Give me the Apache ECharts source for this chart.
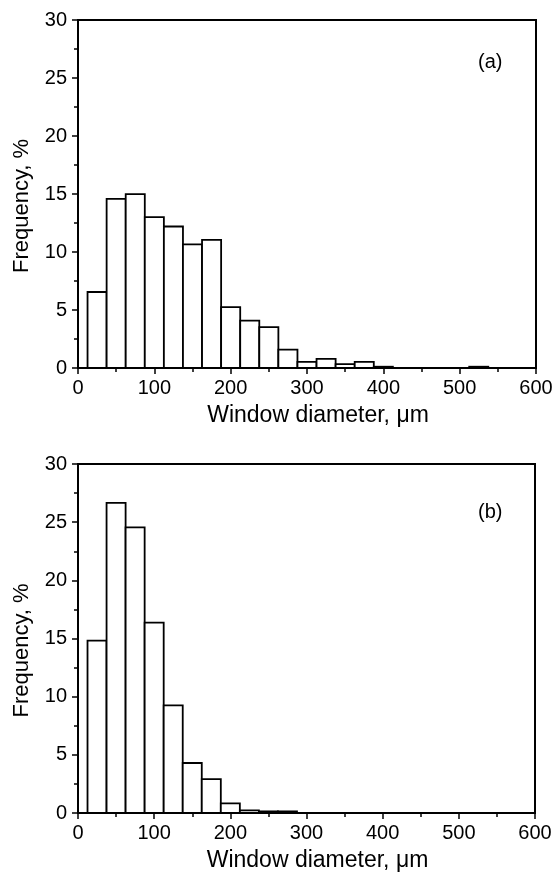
<!DOCTYPE html>
<html>
<head>
<meta charset="utf-8">
<script src="https://cdn.jsdelivr.net/npm/echarts@6/dist/echarts.min.js"></script>
<style>
  html, body { margin: 0; padding: 0; background: #fff; }
  #chart { width: 558px; height: 882px; }
</style>
</head>
<body>
<div id="chart"></div>
<script>
// histogram bins (window diameter, um)
const binCenters = [25, 50, 75, 100, 125, 150, 175, 200, 225, 250, 275, 300,
  325, 350, 375, 400, 425, 450, 475, 500, 525, 550, 575];
const binWidth = 25;
// frequency, %
const freqA = [6.55, 14.58, 14.99, 13.0, 12.2, 10.65, 11.05, 5.25, 4.08, 3.53, 1.58, 0.52,
  0.78, 0.34, 0.52, 0.11, 0, 0, 0, 0, 0.11, 0, 0];
const freqB = [14.81, 26.65, 24.56, 16.36, 9.26, 4.3, 2.92, 0.83, 0.23, 0.14, 0.14, 0,
  0, 0, 0, 0, 0, 0, 0, 0, 0, 0, 0];
const yTicks = { min: 0, max: 30, interval: 5 };
const xTicks = { min: 0, max: 600, interval: 100 };
const panelLabels = ['(a)', '(b)'];
const xName = 'Window diameter, \u03bcm';
const yName = 'Frequency, %';

const font = "'Liberation Sans', Arial, sans-serif";

const chart = echarts.init(document.getElementById('chart'));

function renderBar(params, api) {
  const c = api.value(0);
  const v = api.value(1);
  if (!v) return;
  const p0 = api.coord([c - binWidth / 2, v]);
  const p1 = api.coord([c + binWidth / 2, 0]);
  return {
    type: 'rect',
    shape: { x: p0[0], y: p0[1], width: p1[0] - p0[0], height: p1[1] - p0[1] },
    style: { fill: '#fff', stroke: '#000', lineWidth: 1.8 }
  };
}

const makeX = (gridIndex) => ({
  type: 'value',
  gridIndex,
  min: xTicks.min,
  max: xTicks.max,
  interval: xTicks.interval,
  name: xName,
  nameLocation: 'middle',
  nameGap: 36,
  nameTextStyle: { color: '#000', fontSize: 23, fontFamily: font, padding: [0, 0, 0, 22] },
  axisLine: { show: true, lineStyle: { color: '#000', width: 2 } },
  axisTick: { show: true, length: 6, lineStyle: { color: '#000', width: 1.5 } },
  minorTick: { show: true, splitNumber: 2, length: 4, lineStyle: { color: '#000', width: 1.5 } },
  splitLine: { show: false },
  axisLabel: { color: '#000', fontSize: 20, fontFamily: font, margin: 10 }
});

const makeY = (gridIndex) => ({
  type: 'value',
  gridIndex,
  min: yTicks.min,
  max: yTicks.max,
  interval: yTicks.interval,
  name: yName,
  nameLocation: 'middle',
  nameGap: 45,
  nameTextStyle: { color: '#000', fontSize: 22, fontFamily: font, padding: [0, 24, 0, 0] },
  axisLine: { show: true, lineStyle: { color: '#000', width: 2 } },
  axisTick: { show: true, length: 6, lineStyle: { color: '#000', width: 1.5 } },
  minorTick: { show: true, splitNumber: 2, length: 4, lineStyle: { color: '#000', width: 1.5 } },
  splitLine: { show: false },
  axisLabel: { color: '#000', fontSize: 20, fontFamily: font, margin: 11 }
});

const option = {
  animation: false,
  backgroundColor: '#fff',
  grid: [
    { left: 78, right: 22, top: 20, height: 348, show: true, borderColor: '#000', borderWidth: 2, backgroundColor: 'transparent' },
    { left: 78, right: 23, top: 464, height: 349, show: true, borderColor: '#000', borderWidth: 2, backgroundColor: 'transparent' }
  ],
  xAxis: [makeX(0), makeX(1)],
  yAxis: [makeY(0), makeY(1)],
  graphic: [
    { type: 'text', left: 478, top: 52, style: { text: panelLabels[0], fill: '#000', fontSize: 20, fontFamily: font } },
    { type: 'text', left: 478, top: 502, style: { text: panelLabels[1], fill: '#000', fontSize: 20, fontFamily: font } }
  ],
  series: [
    {
      type: 'custom',
      xAxisIndex: 0,
      yAxisIndex: 0,
      renderItem: renderBar,
      encode: { x: 0, y: 1 },
      data: binCenters.map((c, i) => [c, freqA[i]])
    },
    {
      type: 'custom',
      xAxisIndex: 1,
      yAxisIndex: 1,
      renderItem: renderBar,
      encode: { x: 0, y: 1 },
      data: binCenters.map((c, i) => [c, freqB[i]])
    }
  ]
};

chart.setOption(option);
</script>
</body>
</html>
